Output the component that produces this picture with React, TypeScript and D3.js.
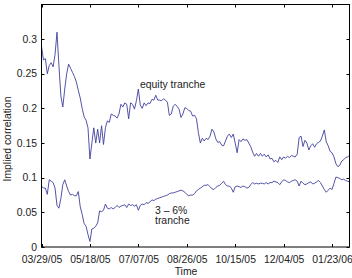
import React from 'react';
import * as d3 from 'd3';

// sampled every 2 days starting 03/29/05
const startDate = '03/29/05';
const endDate = '02/10/06';
const sampleStepDays = 2;

const xTickLabels = ['03/29/05', '05/18/05', '07/07/05', '08/26/05', '10/15/05', '12/04/05', '01/23/06'];
const yTickValues = [0, 0.05, 0.1, 0.15, 0.2, 0.25, 0.3];
const yTickLabels = ['0', '0.05', '0.1', '0.15', '0.2', '0.25', '0.3'];

const equityTranche = [
    0.29, 0.27, 0.272, 0.25, 0.262, 0.266, 0.26, 0.278, 0.31, 0.262,
    0.218, 0.202, 0.228, 0.25, 0.264, 0.258, 0.252, 0.246, 0.238, 0.226,
    0.215, 0.2, 0.188, 0.183, 0.172, 0.127, 0.15, 0.172, 0.15, 0.17,
    0.15, 0.175, 0.148, 0.172, 0.182, 0.18, 0.192, 0.19, 0.189, 0.186,
    0.192, 0.206, 0.202, 0.208, 0.206, 0.185, 0.208, 0.206, 0.199, 0.211,
    0.228, 0.205, 0.2, 0.208, 0.204, 0.208, 0.207, 0.213, 0.212, 0.219,
    0.212, 0.212, 0.211, 0.214, 0.212, 0.209, 0.19, 0.192, 0.203, 0.206,
    0.203, 0.199, 0.187, 0.192, 0.201, 0.2, 0.197, 0.196, 0.189, 0.19,
    0.185, 0.165, 0.15, 0.157, 0.153, 0.157, 0.155, 0.16, 0.17, 0.166,
    0.156, 0.151, 0.152, 0.147, 0.146, 0.153, 0.16, 0.163, 0.158, 0.163,
    0.15, 0.136, 0.155, 0.152, 0.156, 0.154, 0.155, 0.15, 0.145, 0.137,
    0.131, 0.135, 0.131, 0.135, 0.131, 0.134, 0.13, 0.133, 0.127, 0.128,
    0.123, 0.125, 0.122, 0.13, 0.126, 0.13, 0.128, 0.131, 0.129, 0.132,
    0.131, 0.13, 0.134, 0.158, 0.16, 0.145, 0.154, 0.15, 0.14, 0.146,
    0.149, 0.144, 0.149, 0.151, 0.153, 0.16, 0.169, 0.152, 0.146, 0.138,
    0.136, 0.13, 0.12, 0.116, 0.118, 0.124, 0.126, 0.129, 0.13, 0.132
];

const mezzTranche = [
    0.088, 0.085, 0.085, 0.076, 0.097, 0.095, 0.093, 0.085, 0.06, 0.056,
    0.07, 0.09, 0.097, 0.088, 0.08, 0.075, 0.076, 0.074, 0.074, 0.08,
    0.058, 0.047, 0.034, 0.03, 0.018, 0.008, 0.026, 0.027, 0.03, 0.035,
    0.052, 0.051, 0.053, 0.062, 0.056, 0.055, 0.057, 0.055, 0.057, 0.06,
    0.057, 0.059, 0.06, 0.061, 0.057, 0.062, 0.06, 0.061, 0.059, 0.061,
    0.053, 0.06, 0.062, 0.061, 0.064, 0.063, 0.065, 0.068, 0.067, 0.069,
    0.07, 0.071, 0.072, 0.073, 0.074, 0.075, 0.077, 0.078, 0.078, 0.079,
    0.08, 0.081, 0.082, 0.081, 0.079, 0.076, 0.074, 0.075, 0.075, 0.077,
    0.081, 0.083, 0.085, 0.087, 0.089, 0.089, 0.09, 0.087, 0.084, 0.083,
    0.086, 0.088, 0.089, 0.092, 0.095, 0.09, 0.088, 0.088, 0.085, 0.079,
    0.087, 0.088, 0.087, 0.086, 0.088, 0.087, 0.085, 0.086, 0.09, 0.093,
    0.091, 0.092, 0.091, 0.092, 0.092, 0.091, 0.093, 0.091, 0.093, 0.093,
    0.095, 0.094, 0.093, 0.09, 0.094, 0.097, 0.096, 0.094, 0.093, 0.095,
    0.096, 0.097, 0.095, 0.088, 0.095, 0.092, 0.09, 0.091, 0.093, 0.094,
    0.091, 0.092, 0.094, 0.096, 0.093, 0.088, 0.083, 0.079, 0.082, 0.085,
    0.083, 0.092, 0.101, 0.1, 0.099, 0.097, 0.098, 0.096, 0.095, 0.094
];

const width = 352;
const height = 278;
const plot = { left: 41.5, right: 349.5, top: 4.5, bottom: 247 };
const lineColor = '#3f3f9e';
const textColor = '#222';
const font = 'Liberation Sans, Arial, Helvetica, sans-serif';
const fontSize = 10.4;
const tickLen = 3;

export default function App() {
    const parse = d3.timeParse('%m/%d/%y');
    const t0 = parse(startDate) as Date;
    const t1 = parse(endDate) as Date;

    const x = d3.scaleTime().domain([t0, t1]).range([plot.left, plot.right]);
    const y = d3.scaleLinear().domain([0, 0.35]).range([plot.bottom, plot.top]);

    const dateAt = (i: number) => d3.timeDay.offset(t0, i * sampleStepDays);

    const line = d3.line<number>()
        .x((_, i) => x(dateAt(i)))
        .y((d) => y(d));

    const xTicks = xTickLabels.map((s) => ({ label: s, date: parse(s) as Date }));

    return (
        <svg width={width} height={height}
            style={{ position: 'absolute', left: 0, top: 0, background: '#fff' }}
            fontFamily={font}>
            <rect x={0} y={0} width={width} height={height} fill="#fff" />

            <path d={line(equityTranche) ?? ''} fill="none" stroke={lineColor} strokeWidth={0.9} />
            <path d={line(mezzTranche) ?? ''} fill="none" stroke={lineColor} strokeWidth={0.9} />

            <rect x={plot.left} y={plot.top} width={plot.right - plot.left} height={plot.bottom - plot.top}
                fill="none" stroke="#000" strokeWidth={1} />

            {xTicks.map((t) => {
                const px = Math.round(x(t.date)) + 0.5;
                return (
                    <g key={t.label}>
                        <line x1={px} x2={px} y1={plot.bottom} y2={plot.bottom - tickLen} stroke="#000" />
                        <line x1={px} x2={px} y1={plot.top} y2={plot.top + tickLen} stroke="#000" />
                        <text x={x(t.date) + 0.5} y={262.5} textAnchor="middle" fontSize={fontSize} fill={textColor}>{t.label}</text>
                    </g>
                );
            })}

            {yTickValues.map((v, i) => {
                const py = Math.round(y(v)) + 0.5;
                return (
                    <g key={v}>
                        <line x1={plot.left} x2={plot.left + tickLen} y1={py} y2={py} stroke="#000" />
                        <line x1={plot.right} x2={plot.right - tickLen} y1={py} y2={py} stroke="#000" />
                        <text x={37} y={y(v) + 3.6} textAnchor="end" fontSize={fontSize} fill={textColor}>{yTickLabels[i]}</text>
                    </g>
                );
            })}

            <text x={186} y={275} textAnchor="middle" fontSize={fontSize} fill={textColor}>Time</text>
            <text transform="translate(10.5, 139) rotate(-90)" textAnchor="middle" fontSize={fontSize} fill={textColor}>
                Implied correlation
            </text>

            <text x={140} y={87.5} fontSize={fontSize} fill={textColor}>equity tranche</text>
            <text x={155} y={213.5} fontSize={fontSize} fill={textColor}>3 – 6%</text>
            <text x={155} y={224} fontSize={fontSize} fill={textColor}>tranche</text>
        </svg>
    );
}
